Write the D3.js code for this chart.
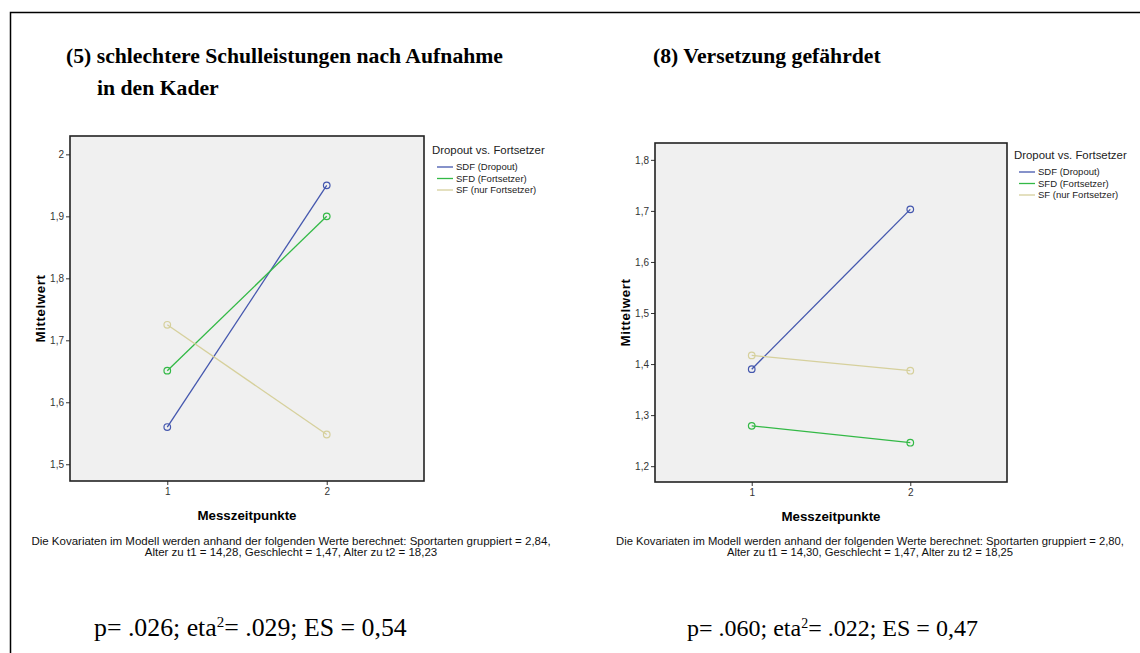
<!DOCTYPE html>
<html>
<head>
<meta charset="utf-8">
<script src="https://cdn.jsdelivr.net/npm/d3@7"></script>
<style>
  body { margin: 0; background: #fff; }
  text { font-family: "Liberation Sans", Arial, sans-serif; }
  .serif { font-family: "Liberation Serif", "DejaVu Serif", serif; }
</style>
</head>
<body>
<svg id="chart" width="1140" height="653"></svg>
<script>
// categories
var timePoints = [1, 2];
var groups = ["SDF (Dropout)", "SFD (Fortsetzer)", "SF (nur Fortsetzer)"];

// (5) schlechtere Schulleistungen
var schulSDF = [1.56, 1.95];
var schulSFD = [1.651, 1.90];
var schulSF  = [1.725, 1.548];
var schulTicks = [1.5, 1.6, 1.7, 1.8, 1.9, 2];

// (8) Versetzung gefährdet
var versSDF = [1.390, 1.703];
var versSFD = [1.279, 1.246];
var versSF  = [1.417, 1.387];
var versTicks = [1.2, 1.3, 1.4, 1.5, 1.6, 1.7, 1.8];

var colors = ["#4457ae", "#33b946", "#d6d09c"];

var svg = d3.select("#chart");
var de = d3.formatLocale({decimal: ",", thousands: ".", grouping: [3], currency: ["", "€"]});
var fmt = de.format("~g");

// outer frame (top + left)
svg.append("path")
    .attr("d", "M10.5,653 V12.5 H1140")
    .attr("fill", "none")
    .attr("stroke", "#000")
    .attr("stroke-width", 1.5);

function panel(cfg) {
  var x = d3.scaleLinear().domain([0.39, 2.61]).range([cfg.left, cfg.right]);
  var y = d3.scaleLinear().domain(cfg.yDomain).range([cfg.bottom, cfg.top]);

  svg.append("rect")
      .attr("x", cfg.left).attr("y", cfg.top)
      .attr("width", cfg.right - cfg.left).attr("height", cfg.bottom - cfg.top)
      .attr("fill", "#f0f0f0");

  var ya = svg.append("g")
      .attr("transform", "translate(" + cfg.left + ",0)")
      .call(d3.axisLeft(y).tickValues(cfg.ticks).tickFormat(fmt).tickSize(4).tickPadding(2));
  var xa = svg.append("g")
      .attr("transform", "translate(0," + cfg.bottom + ")")
      .call(d3.axisBottom(x).tickValues(timePoints).tickFormat(d3.format("d")).tickSize(4).tickPadding(3));
  [ya, xa].forEach(function(a) {
    a.select(".domain").remove();
    a.selectAll(".tick line").attr("stroke", "#333");
    a.selectAll(".tick text").attr("fill", "#333").style("font-size", "10px")
        .style("font-family", "Liberation Sans, Arial, sans-serif");
  });

  svg.append("rect")
      .attr("x", cfg.left).attr("y", cfg.top)
      .attr("width", cfg.right - cfg.left).attr("height", cfg.bottom - cfg.top)
      .attr("fill", "none").attr("stroke", "#222").attr("stroke-width", 1.6);

  var line = d3.line()
      .x(function(d, i) { return x(timePoints[i]); })
      .y(function(d) { return y(d); });

  cfg.series.forEach(function(s, k) {
    svg.append("path")
        .datum(s)
        .attr("fill", "none")
        .attr("stroke", colors[k])
        .attr("stroke-width", 1.3)
        .attr("d", line);
    svg.selectAll(null)
        .data(s)
        .enter().append("circle")
        .attr("cx", function(d, i) { return x(timePoints[i]); })
        .attr("cy", function(d) { return y(d); })
        .attr("r", 3.3)
        .attr("fill", "none")
        .attr("stroke", colors[k])
        .attr("stroke-width", 1.2);
  });

  // axis titles
  var cx = (cfg.left + cfg.right) / 2, cy = (cfg.top + cfg.bottom) / 2;
  svg.append("text")
      .attr("x", cx).attr("y", cfg.bottom + 39)
      .attr("text-anchor", "middle")
      .style("font-size", "13.3px").style("font-weight", "bold")
      .text("Messzeitpunkte");
  svg.append("text")
      .attr("transform", "translate(" + cfg.yLabelX + "," + cy + ") rotate(-90)")
      .attr("text-anchor", "middle")
      .style("font-size", "13.3px").style("font-weight", "bold")
      .style("letter-spacing", "0.6px")
      .text("Mittelwert");

  // legend
  var lg = svg.append("g").attr("transform", "translate(" + cfg.legendX + "," + cfg.legendY + ")");
  lg.append("text").attr("x", 0).attr("y", 0)
      .style("font-size", "11.4px").attr("fill", "#222")
      .text("Dropout vs. Fortsetzer");
  groups.forEach(function(gname, k) {
    var yy = 13 + k * 11.5;
    lg.append("line").attr("x1", 5).attr("x2", 21).attr("y1", yy).attr("y2", yy)
        .attr("stroke", colors[k]).attr("stroke-width", 1.3);
    lg.append("text").attr("x", 24).attr("y", yy + 3.3)
        .style("font-size", "9.5px").attr("fill", "#222")
        .text(gname);
  });

  // title
  cfg.title.forEach(function(t, i) {
    svg.append("text").attr("class", "serif")
        .attr("x", t.x).attr("y", t.y)
        .style("font-size", "21.7px").style("font-weight", "bold")
        .text(t.text);
  });

  // footnote
  cfg.note.forEach(function(t, i) {
    svg.append("text")
        .attr("x", cfg.noteX).attr("y", 545 + i * 11)
        .attr("text-anchor", "middle")
        .style("font-size", cfg.noteSize + "px").attr("fill", "#111")
        .text(t);
  });

  // stats
  var st = svg.append("text").attr("class", "serif")
      .attr("x", cfg.statX).attr("y", 636)
      .style("font-size", cfg.statSize + "px");
  st.append("tspan").text(cfg.stats[0]);
  st.append("tspan").attr("dy", -cfg.statSize * 0.35).style("font-size", (cfg.statSize * 0.58) + "px").text("2");
  st.append("tspan").attr("dy", cfg.statSize * 0.35).text(cfg.stats[1]);
}

panel({
  left: 70, right: 424, top: 136, bottom: 481,
  yDomain: [1.473, 2.0296], ticks: schulTicks,
  series: [schulSDF, schulSFD, schulSF],
  yLabelX: 45, legendX: 432, legendY: 154,
  title: [{x: 66, y: 63, text: "(5) schlechtere Schulleistungen nach Aufnahme"},
          {x: 97, y: 95, text: "in den Kader"}],
  noteX: 291, noteSize: 11.5,
  note: ["Die Kovariaten im Modell werden anhand der folgenden Werte berechnet: Sportarten gruppiert = 2,84,",
         "Alter zu t1 = 14,28, Geschlecht = 1,47, Alter zu t2 = 18,23"],
  statX: 94, statSize: 25.8, stats: ["p= .026; eta", "= .029; ES = 0,54"]
});

panel({
  left: 655, right: 1007, top: 143, bottom: 482,
  yDomain: [1.169, 1.833], ticks: versTicks,
  series: [versSDF, versSFD, versSF],
  yLabelX: 630, legendX: 1014, legendY: 159,
  title: [{x: 653, y: 63, text: "(8) Versetzung gefährdet"}],
  noteX: 870, noteSize: 11.25,
  note: ["Die Kovariaten im Modell werden anhand der folgenden Werte berechnet: Sportarten gruppiert = 2,80,",
         "Alter zu t1 = 14,30, Geschlecht = 1,47, Alter zu t2 = 18,25"],
  statX: 687, statSize: 24, stats: ["p= .060; eta", "= .022; ES = 0,47"]
});
</script>
</body>
</html>
